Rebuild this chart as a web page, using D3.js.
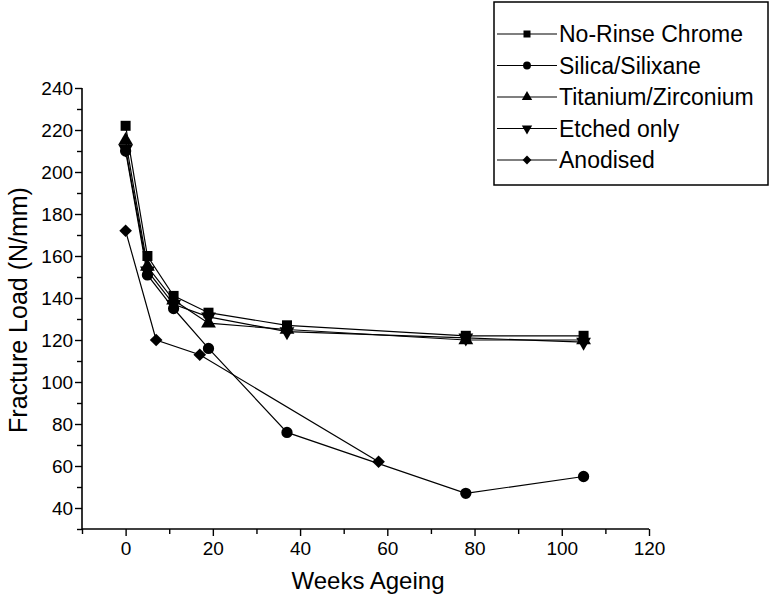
<!doctype html>
<meta charset="utf-8">
<title>Fracture Load vs Weeks Ageing</title>
<style>
  body { margin: 0; background: #fff; }
  svg { display: block; font-family: "Liberation Sans", Arial, sans-serif; }
</style>
<svg id="chart" width="773" height="596"></svg>
<script src="https://cdn.jsdelivr.net/npm/d3@7/dist/d3.min.js"></script>
<script>

// (data)
var seriesNames = ["No-Rinse Chrome", "Silica/Silixane", "Titanium/Zirconium", "Etched only", "Anodised"];
var weeks = [0, 5, 11, 19, 37, 78, 105];
var noRinse = [222, 160, 141, 133, 127, 122, 122];
var silica = [210, 151, 135, 116, 76, 47, 55];
var titanium = [215, 155, 139, 128, 125, 120, 120];
var etched = [211, 153, 137, 131, 124, 121, 119];
var anodisedWeeks = [0, 7, 17, 58];
var anodised = [172, 120, 113, 62];
var xTicks = [-10, 0, 10, 20, 30, 40, 50, 60, 70, 80, 90, 100, 110, 120];
var yTicks = [30, 40, 50, 60, 70, 80, 90, 100, 110, 120, 130, 140, 150, 160, 170, 180, 190, 200, 210, 220, 230, 240];

var series = [
  {name: seriesNames[0], xs: weeks, ys: noRinse, sym: "square"},
  {name: seriesNames[1], xs: weeks, ys: silica, sym: "circle"},
  {name: seriesNames[2], xs: weeks, ys: titanium, sym: "up"},
  {name: seriesNames[3], xs: weeks, ys: etched, sym: "down"},
  {name: seriesNames[4], xs: anodisedWeeks, ys: anodised, sym: "diamond"}
];

// (scales)
var svg = d3.select("#chart");
var x = d3.scaleLinear().domain([-10, 120]).range([82, 649]);
var y = d3.scaleLinear().domain([30, 240]).range([529, 88]);

// (symbols)
function symPath(kind, scale) {
  var s = scale || 1;
  if (kind === "square") return d3.symbol(d3.symbolSquare, 100 * s * s)();
  if (kind === "circle") return d3.symbol(d3.symbolCircle, 100 * s * s)();
  if (kind === "up" || kind === "down") return d3.symbol(d3.symbolTriangle, 95 * s * s)();
  return d3.symbol(d3.symbolSquare, 80 * s * s)();
}
function symRotate(kind) {
  if (kind === "down") return " rotate(180)";
  if (kind === "diamond") return " rotate(45)";
  return "";
}

// (axes)
var xAxis = svg.append("g")
  .attr("transform", "translate(0," + y(30) + ")")
  .call(d3.axisBottom(x).tickValues(xTicks).tickSize(5)
    .tickFormat(function(d) { return d % 20 === 0 && d >= 0 ? d : ""; }));
xAxis.selectAll(".tick line").attr("y2", function(d) { return d % 20 === 0 ? 7 : 5; });

var yAxis = svg.append("g")
  .attr("transform", "translate(" + x(-10) + ",0)")
  .call(d3.axisLeft(y).tickValues(yTicks).tickSize(5)
    .tickFormat(function(d) { return d % 20 === 0 && d >= 40 ? d : ""; }));
yAxis.selectAll(".tick line").attr("x2", function(d) { return d % 20 === 0 ? -7 : -5; });

svg.selectAll(".domain").attr("stroke", "#000").attr("stroke-width", 1.6).attr("d", null);
xAxis.select(".domain").attr("d", "M" + x(-10) + ",0H" + x(120));
yAxis.select(".domain").attr("d", "M0," + y(30) + "V" + y(240));
svg.selectAll(".tick line").attr("stroke", "#000").attr("stroke-width", 1.4);
svg.selectAll(".tick text").attr("font-size", 19).attr("fill", "#000")
  .attr("font-family", "'Liberation Sans', Arial, sans-serif");
xAxis.selectAll(".tick text").attr("dy", "0.95em");
yAxis.selectAll(".tick text").attr("dx", "-0.05em");

// (axis titles)
svg.append("text")
  .attr("x", 368).attr("y", 589)
  .attr("text-anchor", "middle")
  .attr("font-size", 24)
  .text("Weeks Ageing");
svg.append("text")
  .attr("transform", "translate(27,310) rotate(-90)")
  .attr("text-anchor", "middle")
  .attr("font-size", 25)
  .text("Fracture Load (N/mm)");

// (lines and markers)
var line = d3.line().x(function(d) { return x(d[0]); }).y(function(d) { return y(d[1]); });

series.forEach(function(s) {
  var pts = s.xs.map(function(v, i) { return [v, s.ys[i]]; });
  svg.append("path")
    .attr("d", line(pts))
    .attr("fill", "none")
    .attr("stroke", "#000")
    .attr("stroke-width", 1.2);
  svg.append("g").selectAll("path")
    .data(pts)
    .enter()
    .append("path")
    .attr("d", symPath(s.sym))
    .attr("transform", function(d) { return "translate(" + x(d[0]) + "," + y(d[1]) + ")" + symRotate(s.sym); })
    .attr("fill", "#000");
});

// (legend)
var legend = svg.append("g");
legend.append("rect")
  .attr("x", 494).attr("y", 2).attr("width", 274).attr("height", 183)
  .attr("fill", "#fff").attr("stroke", "#000").attr("stroke-width", 1.5);

var rows = legend.selectAll("g.row")
  .data(series)
  .enter()
  .append("g")
  .attr("class", "row")
  .attr("transform", function(d, i) { return "translate(0," + (34 + i * 31.5) + ")"; });
rows.append("line")
  .attr("x1", 497).attr("x2", 557).attr("y1", 0).attr("y2", 0)
  .attr("stroke", "#000").attr("stroke-width", 1.2);
rows.append("path")
  .attr("d", function(d) { return symPath(d.sym, 0.7); })
  .attr("transform", function(d) { return "translate(527,0)" + symRotate(d.sym); })
  .attr("fill", "#000");
rows.append("text")
  .attr("x", 559).attr("y", 0).attr("dy", "0.35em")
  .attr("font-size", 23)
  .text(function(d) { return d.name; });

</script>
